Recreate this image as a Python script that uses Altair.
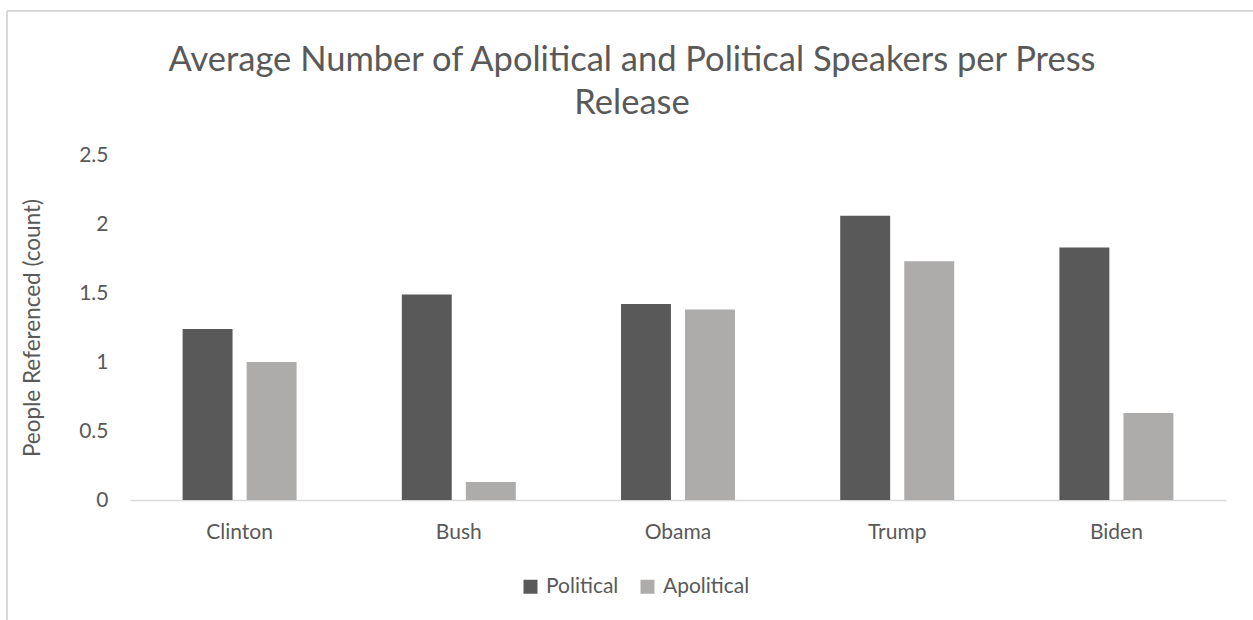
import altair as alt
import pandas as pd

presidents = ["Clinton", "Bush", "Obama", "Trump", "Biden"]
series = ["Political", "Apolitical"]
political = [1.24, 1.49, 1.42, 2.06, 1.83]
apolitical = [1.0, 0.13, 1.38, 1.73, 0.63]
y_ticks = [0, 0.5, 1, 1.5, 2, 2.5]
colors = ["#595959", "#AEABAB"]

rows = []
for p, v1, v2 in zip(presidents, political, apolitical):
    rows.append({"president": p, "series": "Political", "value": v1})
    rows.append({"president": p, "series": "Apolitical", "value": v2})
df = pd.DataFrame(rows)

FONT = "Lato"
TXT = "#595959"

bars = alt.Chart(df).mark_bar().encode(
    x=alt.X("president:N", sort=presidents, title=None,
            scale=alt.Scale(paddingInner=0.48, paddingOuter=0.24),
            axis=alt.Axis(labelAngle=0, ticks=False, domainColor="#D9D9D9", domainWidth=1.5,
                          labelFont=FONT, labelFontSize=21, labelColor=TXT, labelPadding=21)),
    xOffset=alt.XOffset("series:N", sort=series,
                        scale=alt.Scale(paddingInner=0.22, paddingOuter=0)),
    y=alt.Y("value:Q", title="People Referenced (count)",
            scale=alt.Scale(domain=[0, 2.5], nice=False),
            axis=alt.Axis(values=y_ticks, format="~g", domain=False, ticks=False, grid=False,
                          labelFont=FONT, labelFontSize=21, labelColor=TXT, labelPadding=22,
                          titleFont=FONT, titleFontSize=22.5, titleColor=TXT,
                          titleFontWeight="normal", titlePadding=34)),
    color=alt.Color("series:N", sort=series,
                    scale=alt.Scale(domain=series, range=colors),
                    legend=alt.Legend(title=None, orient="none", direction="horizontal",
                                      legendX=390, legendY=421, symbolType="square",
                                      symbolSize=196, symbolStrokeWidth=0,
                                      labelFont=FONT, labelFontSize=21, labelColor=TXT,
                                      columnPadding=18, labelOffset=5)),
)

border_top = alt.Chart(alt.Data(values=[{}])).mark_rule(color="#D9D9D9", strokeWidth=2).encode(
    x=alt.value(-123), x2=alt.value(1130), y=alt.value(-144))
border_left = alt.Chart(alt.Data(values=[{}])).mark_rule(color="#D9D9D9", strokeWidth=2).encode(
    x=alt.value(-123), y=alt.value(-144), y2=alt.value(470))

chart = alt.layer(bars, border_top, border_left).properties(
    width=1096, height=345,
    title=alt.Title(["Average Number of Apolitical and Political Speakers per Press", "Release"],
                    font=FONT, fontSize=34.5, fontWeight="normal", color=TXT, anchor="middle",
                    dx=-46, offset=-111, lineHeight=43),
    autosize=alt.AutoSizeParams(type="none"),
    padding={"left": 130, "top": 155, "right": 27, "bottom": 120},
    background="white",
).configure_view(stroke=None)

chart.save("out.html", embed_options={"renderer": "svg", "actions": False})
